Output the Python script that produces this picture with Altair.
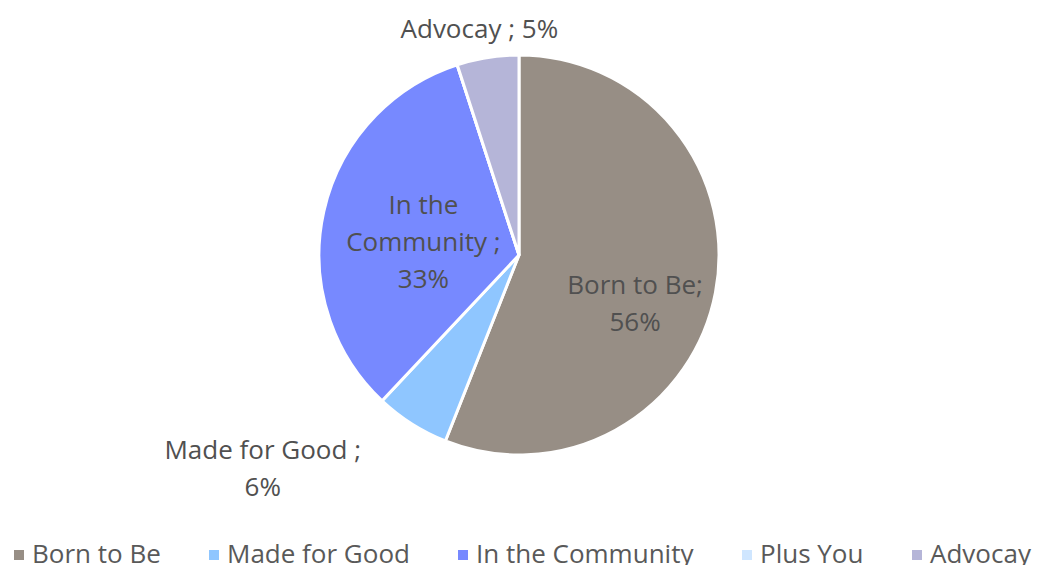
import altair as alt
import pandas as pd

categories = ["Born to Be", "Made for Good", "In the Community", "Plus You", "Advocay"]
values = [56, 6, 33, 0, 5]
colors = ["#978E85", "#8FC6FF", "#7789FF", "#CFE6FF", "#B5B5D8"]
labels = ["Born to Be;\n56%", "Made for Good ;\n6%", "In the\nCommunity ;\n33%", "", "Advocay ; 5%"]

df = pd.DataFrame({"cat": categories, "value": values, "order": list(range(5)), "label": labels})

FONT = "Open Sans"
FS = 26
CX, CY = 519, 255

pie = alt.Chart(df).mark_arc(radius=200, stroke="white", strokeWidth=3).encode(
    theta=alt.Theta("value:Q", stack=True),
    order=alt.Order("order:Q"),
    x=alt.value(CX),
    y=alt.value(CY),
    color=alt.Color(
        "cat:N",
        scale=alt.Scale(domain=categories, range=colors),
        legend=alt.Legend(
            orient="none", legendX=6, legendY=542, direction="horizontal",
            columns=5, title=None, labelFontSize=FS, labelFont=FONT,
            labelColor="#595959", symbolType="square", symbolSize=100,
            symbolStrokeWidth=0, columnPadding=40, labelOffset=0, padding=0,
            labelLimit=0,
        ),
    ),
)

lbl_base = alt.Chart(df).transform_window(
    cum="sum(value)", sort=[alt.SortField("order")], frame=[None, 0]
).transform_calculate(mid="datum.cum - datum.value / 2")

def label_layer(cat, radius, dx=0, dy=0):
    return lbl_base.transform_filter(alt.datum.cat == cat).mark_text(
        radius=radius, dx=dx, dy=dy, fontSize=FS, font=FONT, color="#505050",
        lineBreak="\n", lineHeight=37, align="center", baseline="middle",
    ).encode(
        theta=alt.Theta("mid:Q", stack=None, scale=alt.Scale(domain=[0, 100])),
        x=alt.value(CX),
        y=alt.value(CY),
        text="label:N",
    )

chart = alt.layer(
    pie,
    label_layer("Born to Be", 110, dx=8, dy=10),
    label_layer("In the Community", 100, dx=2, dy=-27),
    label_layer("Made for Good", 245, dx=-125, dy=-11),
    label_layer("Advocay", 228, dx=-4),
).properties(
    width=1037, height=565, autosize=alt.AutoSizeParams(type="none"), padding=0,
    background="white",
).configure_view(stroke=None)

chart.save("out.html", embed_options={"renderer": "svg", "actions": False})
